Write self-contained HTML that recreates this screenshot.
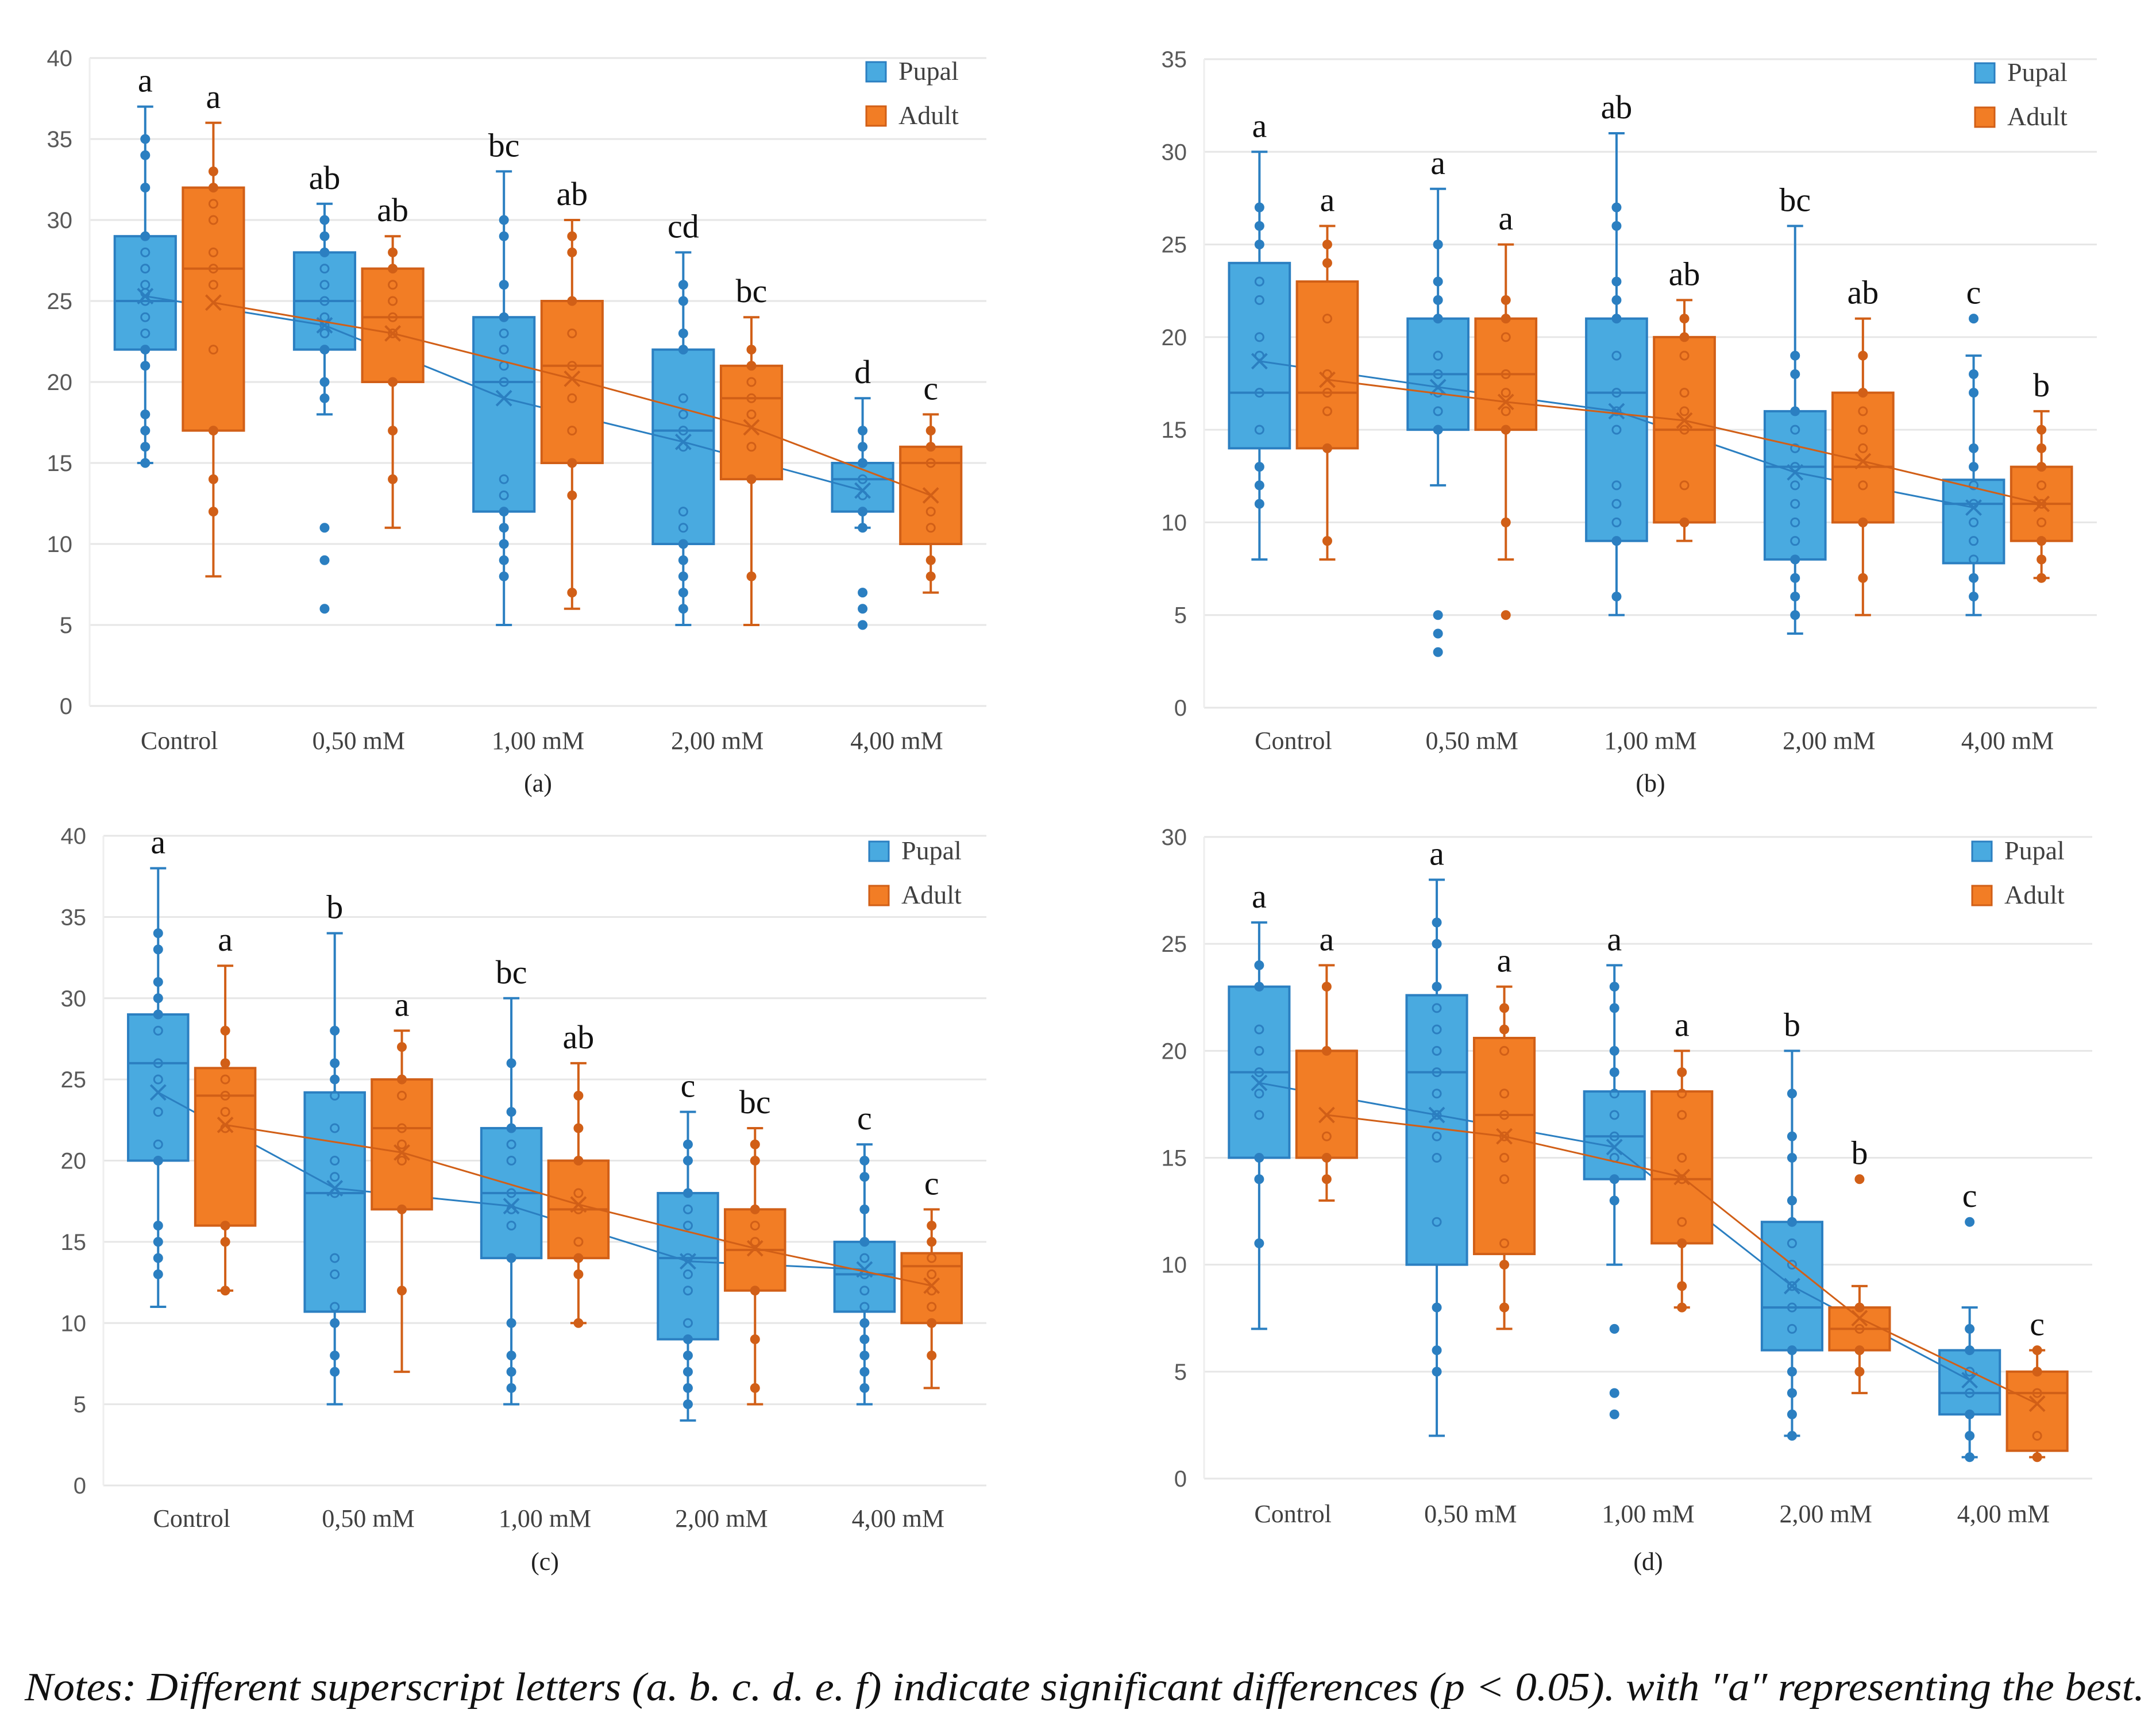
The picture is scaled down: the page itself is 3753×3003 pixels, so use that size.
<!DOCTYPE html>
<html><head><meta charset="utf-8"><style>
html,body{margin:0;padding:0;background:#fff;}
svg{display:block;}
</style></head><body>
<svg id="chart" width="3753" height="3003" viewBox="0 0 3753 3003" xmlns="http://www.w3.org/2000/svg">
<text x="43" y="2960" font-family="Liberation Serif, serif" font-style="italic" font-size="70" fill="#111" textLength="3690" lengthAdjust="spacingAndGlyphs">Notes: Different superscript letters (a. b. c. d. e. f) indicate significant differences (p &lt; 0.05). with ″a″ representing the best.</text>
</svg>
<script>
const categories = ["Control","0,50 mM","1,00 mM","2,00 mM","4,00 mM"];
// each stat: [min, q1, median, q3, max, mean]
const aPupal = [[15,22,25,29,37,25.3],[18,22,25,28,31,23.5],[5,12,20,24,33,19],[5,10,17,22,28,16.3],[11,12,14,15,19,13.3]];
const aAdult = [[8,17,27,32,36,24.9],[11,20,24,27,29,23],[6,15,21,25,30,20.2],[5,14,19,21,24,17.2],[7,10,15,16,18,13]];
const aPupalPts = [[35,34,32,29,28,27,26,25.5,25,24,23,22,21,18,17,16,15],[30,29,28,27,26,25,24,23.5,23,22,20,19,11,9,6],[30,29,26,24,23,22,21,20,14,13,12,11,10,9,8],[26,25,23,22,19,18,17,16,12,11,10,9,8,7,6],[17,16,15,14,13,12,11,7,6,5]];
const aAdultPts = [[33,32,31,30,28,27,26,22,17,14,12],[28,27,26,25,24,23,20,17,14],[29,28,25,23,21,19,17,15,13,7],[22,21,20,19,18,16,14,8],[17,16,15,12,11,9,8]];
const aLettersP = ["a","ab","bc","cd","d"];
const aLettersA = ["a","ab","ab","bc","c"];

const bPupal = [[8,14,17,24,30,18.7],[12,15,18,21,28,17.3],[5,9,17,21,31,16],[4,8,13,16,26,12.7],[5,7.8,11,12.3,19,10.8]];
const bAdult = [[8,14,17,23,26,17.7],[8,15,18,21,25,16.5],[9,10,15,20,22,15.5],[5,10,13,17,21,13.3],[7,9,11,13,16,11]];
const bPupalPts = [[27,26,25,23,22,20,19,17,15,13,12,11],[25,23,22,21,19,18,17,16,15,5,4,3],[27,26,23,22,21,19,17,16,15,12,11,10,9,6],[19,18,16,15,14,13,12,11,10,9,8,7,6,5],[21,18,17,14,13,12,11,10,9,8,7,6]];
const bAdultPts = [[25,24,21,18,17,16,14,9],[22,21,20,18,17,16,15,10,5],[21,20,19,17,16,15,12,10],[19,17,16,15,14,12,10,7],[15,14,13,12,11,10,9,8,7]];
const bLettersP = ["a","a","ab","bc","c"];
const bLettersA = ["a","a","ab","ab","b"];

const cPupal = [[11,20,26,29,38,24.2],[5,10.7,18,24.2,34,18.3],[5,14,18,22,30,17.2],[4,9,14,18,23,13.8],[5,10.7,13,15,21,13.3]];
const cAdult = [[12,16,24,25.7,32,22.2],[7,17,22,25,28,20.5],[10,14,17,20,26,17.3],[5,12,14.5,17,22,14.6],[6,10,13.5,14.3,17,12.3]];
const cPupalPts = [[34,33,31,30,29,28,26,25,23,21,20,16,15,14,13],[28,26,25,24,22,20,19,18,14,13,11,10,8,7],[26,23,22,21,20,18,17,16,14,10,8,7,6],[21,20,18,17,16,14,13,12,10,9,8,7,6,5],[20,19,17,15,14,13,12,11,10,9,8,7,6]];
const cAdultPts = [[28,26,25,24,23,22,16,15,12],[27,25,24,22,21,20,17,12],[24,22,20,18,17,15,14,13,10],[21,20,17,16,15,12,9,6],[16,15,14,13,12,11,10,8]];
const cLettersP = ["a","b","bc","c","c"];
const cLettersA = ["a","a","ab","bc","c"];

const dPupal = [[7,15,19,23,26,18.5],[2,10,19,22.6,28,17],[10,14,16,18.1,24,15.5],[2,6,8,12,20,9],[1,3,4,6,8,4.6]];
const dAdult = [[13,15,20,20,24,17],[7,10.5,17,20.6,23,16],[8,11,14,18.1,20,14.1],[4,6,7,8,9,7.5],[1,1.3,4,5,6,3.5]];
const dPupalPts = [[24,23,21,20,19,18,17,15,14,11],[26,25,23,22,21,20,19,18,17,16,15,12,8,6,5],[23,22,20,19,18,17,16,15,14,13,7,4,3],[18,16,15,13,12,11,10,9,8,7,6,5,4,3,2],[12,7,6,5,4,3,2,1]];
const dAdultPts = [[23,20,16,15,14],[22,21,20,18,17,16,15,14,11,10,8],[19,18,17,15,14,12,11,9,8],[14,8,7,6,5],[6,5,4,2,1]];
const dLettersP = ["a","a","a","b","c"];
const dLettersA = ["a","a","a","b","c"];

const NS = "http://www.w3.org/2000/svg";
const svg = document.getElementById("chart");
const BLUE = "#49aae0", BLUE_S = "#2b7fc1", ORANGE = "#f27d25", ORANGE_S = "#d15f17";

function mk(tag, attrs, parent) {
  const e = document.createElementNS(NS, tag);
  for (const k in attrs) e.setAttribute(k, attrs[k]);
  (parent || svg).appendChild(e);
  return e;
}

function drawPanel(id, box, ymax, pupal, adult, pupalPts, adultPts, lettersP, lettersA, leg, capY, labY) {
  const g = mk("g", {});
  
  
  const L = box[0], R = box[1], T = box[2], B = box[3];
  const y = v => B - (v / ymax) * (B - T);
  const band = (R - L) / categories.length;
  const cx = i => L + band * (i + 0.5);
  const bw = band * 0.34;
  const off = band * 0.19;
  for (let v = 0; v <= ymax; v += 5) {
    const gl = mk("line", {x1: L, x2: R, y1: y(v), y2: y(v), stroke: "#e6e6e6", "stroke-width": 3}, g);
    
    
    const t = mk("text", {x: L - 30, y: y(v) + 14, "text-anchor": "end", "font-family": "Liberation Sans, sans-serif", "font-size": 40, fill: "#595959"}, g);
    t.textContent = v;
    
    
  }
  mk("line", {x1: L, x2: L, y1: T, y2: B, stroke: "#eeeeee", "stroke-width": 3}, g);
  categories.forEach((c, i) => {
    const t = mk("text", {x: cx(i), y: labY, "text-anchor": "middle", "font-family": "Liberation Serif, serif", "font-size": 44, fill: "#404040"}, g);
    t.textContent = c;
    
    
  });
  const cap = mk("text", {x: (L + R) / 2, y: capY, "text-anchor": "middle", "font-family": "Liberation Serif, serif", "font-size": 44, fill: "#222"}, g);
  cap.textContent = "(" + id + ")";
  
  

  function series(stats, pts, letters, dx, fill, stroke, name) {
    const means = [];
    stats.forEach((s, i) => {
      const x = cx(i) + dx;
      const [mn, q1, md, q3, mx, mean] = s;
      const w = mk("line", {x1: x, x2: x, y1: y(mx), y2: y(mn), stroke: stroke, "stroke-width": 4}, g);
      
      
      [mn, mx].forEach(v => mk("line", {x1: x - 14, x2: x + 14, y1: y(v), y2: y(v), stroke: stroke, "stroke-width": 4}, g));
      const r = mk("rect", {x: x - bw / 2, y: y(q3), width: bw, height: y(q1) - y(q3), fill: fill, stroke: stroke, "stroke-width": 4}, g);
      
      
      mk("line", {x1: x - bw / 2, x2: x + bw / 2, y1: y(md), y2: y(md), stroke: stroke, "stroke-width": 4}, g);
      pts[i].forEach(v => {
        const inside = v > q1 && v < q3;
        const p = mk("circle", {cx: x, cy: y(v), r: 7, fill: inside ? "none" : stroke, stroke: stroke, "stroke-width": 3}, g);
        
        
      });
      const my = y(mean);
      mk("path", {d: `M${x-13},${my-13}L${x+13},${my+13}M${x-13},${my+13}L${x+13},${my-13}`, stroke: stroke, "stroke-width": 4, fill: "none"}, g);
      means.push([x, my]);
      let top = Math.max(mx, ...pts[i]);
      const lt = mk("text", {x: x, y: y(top) - 26, "text-anchor": "middle", "font-family": "Liberation Serif, serif", "font-size": 58, fill: "#111"}, g);
      lt.textContent = letters[i];
      
      
    });
    const pl = mk("polyline", {points: means.map(p => p.join(",")).join(" "), fill: "none", stroke: stroke, "stroke-width": 3}, g);
    
    
  }
  series(pupal, pupalPts, lettersP, -off, BLUE, BLUE_S, 'pupal');
  series(adult, adultPts, lettersA, off, ORANGE, ORANGE_S, 'adult');

  [["Pupal", BLUE, BLUE_S, 0], ["Adult", ORANGE, ORANGE_S, 77]].forEach(([lab, f, s, dy]) => {
    const sq = mk("rect", {x: leg[0], y: leg[1] + dy, width: 34, height: 34, fill: f, stroke: s, "stroke-width": 3}, g);
    
    
    const t = mk("text", {x: leg[0] + 56, y: leg[1] + dy + 31, "font-family": "Liberation Serif, serif", "font-size": 46, fill: "#404040"}, g);
    t.textContent = lab;
    
    
  });
}

drawPanel("a", [156, 1717, 101, 1229], 40, aPupal, aAdult, aPupalPts, aAdultPts, aLettersP, aLettersA, [1508, 108], 1378, 1304);
drawPanel("b", [2096, 3650, 103, 1232], 35, bPupal, bAdult, bPupalPts, bAdultPts, bLettersP, bLettersA, [3438, 110], 1378, 1304);
drawPanel("c", [180, 1717, 1455, 2586], 40, cPupal, cAdult, cPupalPts, cAdultPts, cLettersP, cLettersA, [1513, 1465], 2733, 2658);
drawPanel("d", [2096, 3642, 1457, 2574], 30, dPupal, dAdult, dPupalPts, dAdultPts, dLettersP, dLettersA, [3433, 1465], 2733, 2650);
</script>
</body></html>
